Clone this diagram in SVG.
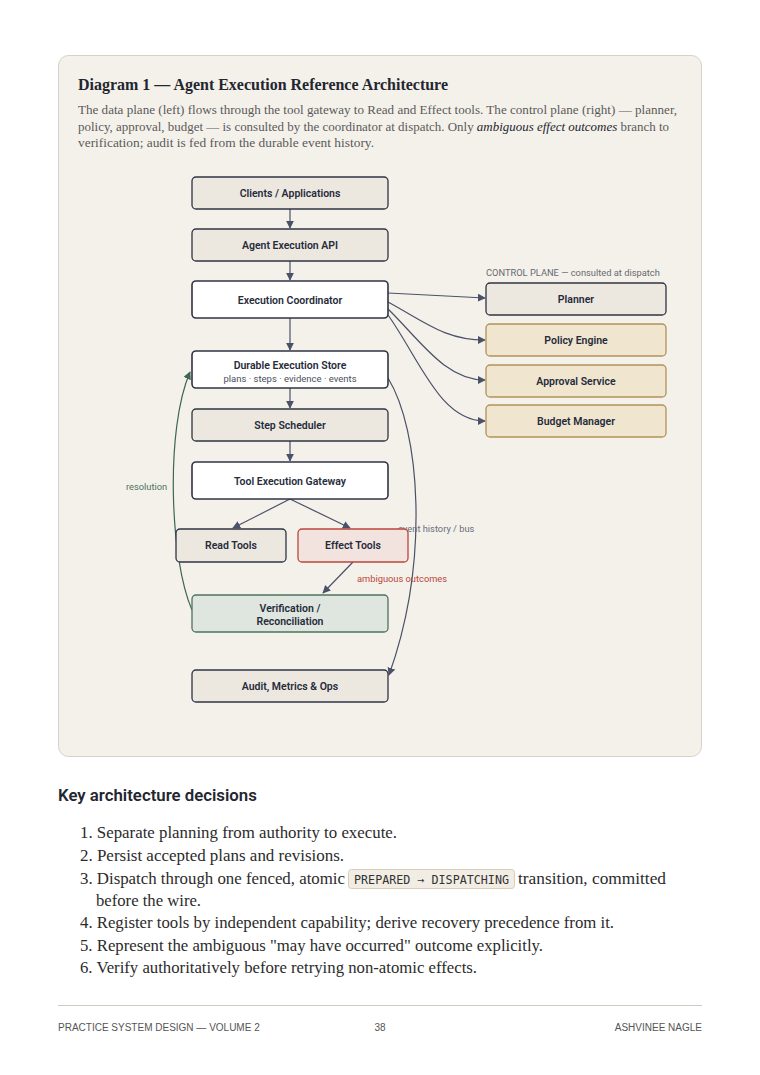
<svg xmlns="http://www.w3.org/2000/svg" width="760" height="1075" viewBox="0 0 760 1075">
<defs>
<marker id="ah" viewBox="0 0 10 10" refX="9" refY="5" markerWidth="8" markerHeight="8" markerUnits="userSpaceOnUse" orient="auto"><path d="M0,0 L10,5 L0,10 z" fill="#4a5168"/></marker>
<marker id="ahg" viewBox="0 0 10 10" refX="9" refY="5" markerWidth="8" markerHeight="8" markerUnits="userSpaceOnUse" orient="auto"><path d="M0,0 L10,5 L0,10 z" fill="#3f6650"/></marker>
<style>
.nt{font-family:Roboto,"Liberation Sans",sans-serif;font-weight:600;font-size:10.5px;fill:#262b3a;text-anchor:middle}
.sub{font-family:Roboto,"Liberation Sans",sans-serif;font-size:9.5px;fill:#4a4f5c;text-anchor:middle}
.b{fill:#ece8e0;stroke:#2f3445;stroke-width:1.3}
.w{fill:#ffffff;stroke:#2f3445;stroke-width:1.6}
.g{fill:#f0e5cf;stroke:#b39257;stroke-width:1.3}
.e{fill:#f3e3df;stroke:#b9473b;stroke-width:1.3}
.v{fill:#dfe6e0;stroke:#4d735e;stroke-width:1.3}
.c{fill:none;stroke:#4a5168;stroke-width:1.2}
.lbl{font-family:Roboto,"Liberation Sans",sans-serif;font-size:9.3px}
.ser{font-family:"Liberation Serif",serif}
.li{font-family:"Liberation Serif",serif;font-size:16.3px;fill:#2b2b2b}
.ft{font-family:"Liberation Sans",sans-serif;font-size:10px;fill:#555}
</style>
</defs>
<rect x="0" y="0" width="760" height="1075" fill="#ffffff"/>
<rect x="58.5" y="55.5" width="643" height="701" rx="10" fill="#f4f1ea" stroke="#d8d2c6" stroke-width="1"/>
<text x="78" y="90" class="ser" font-size="16" font-weight="bold" fill="#23262f" textLength="370" lengthAdjust="spacingAndGlyphs">Diagram 1 — Agent Execution Reference Architecture</text>
<g class="ser" font-size="13" fill="#5a5a5a">
<text x="78" y="114" textLength="599" lengthAdjust="spacingAndGlyphs">The data plane (left) flows through the tool gateway to Read and Effect tools. The control plane (right) — planner,</text>
<text x="78" y="131" textLength="591" lengthAdjust="spacingAndGlyphs">policy, approval, budget — is consulted by the coordinator at dispatch. Only <tspan font-style="italic" fill="#23262f">ambiguous effect outcomes</tspan> branch to</text>
<text x="78" y="147" textLength="296" lengthAdjust="spacingAndGlyphs">verification; audit is fed from the durable event history.</text>
</g>

<g id="connectors">
<path class="c" d="M290,209 V228" marker-end="url(#ah)"/>
<path class="c" d="M290,261 V280" marker-end="url(#ah)"/>
<path class="c" d="M290,318 V350" marker-end="url(#ah)"/>
<path class="c" d="M290,388 V408" marker-end="url(#ah)"/>
<path class="c" d="M290,441 V461" marker-end="url(#ah)"/>
<path class="c" d="M290,499 L233,528" marker-end="url(#ah)"/>
<path class="c" d="M290,499 L350,528" marker-end="url(#ah)"/>
<path class="c" d="M353,562 L323,593" marker-end="url(#ah)"/>
<path class="c" d="M388,293 L485,298" marker-end="url(#ah)"/>
<path class="c" d="M388,302 C425,322 445,340 485,340" marker-end="url(#ah)"/>
<path class="c" d="M388,309 C420,340 445,380 485,380" marker-end="url(#ah)"/>
<path class="c" d="M388,315 C420,360 440,421 485,421" marker-end="url(#ah)"/>
<path d="M192,610 C170,560 165,430 190,372" fill="none" stroke="#3f6650" stroke-width="1.2" marker-end="url(#ahg)"/>
<path class="c" d="M388,378 C420,430 430,560 389,675" marker-end="url(#ah)"/>
<text x="357" y="582" class="lbl" fill="#b9473b">ambiguous outcomes</text>
<text x="126" y="490" class="lbl" fill="#4d735e">resolution</text>
<text x="398" y="532" class="lbl" fill="#6a6e78">event history / bus</text>
</g>

<g id="n-clients"><rect class="b" x="192" y="177" width="196" height="32" rx="4"/><text class="nt" x="290" y="197">Clients / Applications</text></g>
<g id="n-api"><rect class="b" x="192" y="229" width="196" height="32" rx="4"/><text class="nt" x="290" y="249">Agent Execution API</text></g>
<g id="n-coord"><rect class="w" x="192" y="281" width="196" height="37" rx="4"/><text class="nt" x="290" y="304">Execution Coordinator</text></g>
<g id="n-store"><rect class="w" x="192" y="351" width="196" height="37" rx="4"/><text class="nt" x="290" y="369">Durable Execution Store</text><text class="sub" x="290" y="382">plans · steps · evidence · events</text></g>
<g id="n-sched"><rect class="b" x="192" y="409" width="196" height="32" rx="4"/><text class="nt" x="290" y="429">Step Scheduler</text></g>
<g id="n-gateway"><rect class="w" x="192" y="462" width="196" height="37" rx="4"/><text class="nt" x="290" y="485">Tool Execution Gateway</text></g>
<g id="n-read"><rect class="b" x="176" y="529" width="110" height="33" rx="4"/><text class="nt" x="231" y="549">Read Tools</text></g>
<g id="n-effect"><rect class="e" x="298" y="529" width="110" height="33" rx="4"/><text class="nt" x="353" y="549">Effect Tools</text></g>
<g id="n-verify"><rect class="v" x="192" y="595" width="196" height="37" rx="4"/><text class="nt" x="290" y="612">Verification /</text><text class="nt" x="290" y="625">Reconciliation</text></g>
<g id="n-audit"><rect class="b" x="192" y="670" width="196" height="32" rx="4"/><text class="nt" x="290" y="690">Audit, Metrics &amp; Ops</text></g>

<text x="486" y="276" class="lbl" fill="#666a73">CONTROL PLANE — consulted at dispatch</text>
<g id="n-planner"><rect class="b" x="486" y="283" width="180" height="32" rx="4"/><text class="nt" x="576" y="303">Planner</text></g>
<g id="n-policy"><rect class="g" x="486" y="324" width="180" height="32" rx="4"/><text class="nt" x="576" y="344">Policy Engine</text></g>
<g id="n-approval"><rect class="g" x="486" y="365" width="180" height="32" rx="4"/><text class="nt" x="576" y="385">Approval Service</text></g>
<g id="n-budget"><rect class="g" x="486" y="405" width="180" height="32" rx="4"/><text class="nt" x="576" y="425">Budget Manager</text></g>

<text x="58" y="801" font-family="Roboto,'Liberation Sans',sans-serif" font-weight="600" font-size="16.8" fill="#23262f">Key architecture decisions</text>
<g class="li">
<text x="80" y="838" textLength="317" lengthAdjust="spacingAndGlyphs">1. Separate planning from authority to execute.</text>
<text x="80" y="861" textLength="264" lengthAdjust="spacingAndGlyphs">2. Persist accepted plans and revisions.</text>
<text x="80" y="884" textLength="265" lengthAdjust="spacingAndGlyphs">3. Dispatch through one fenced, atomic</text>
<rect x="348.5" y="869.5" width="166" height="19" rx="3" fill="#f1ede4" stroke="#d9cfb8"/>
<text x="354" y="883.5" font-family="'DejaVu Sans Mono',monospace" font-size="11.5" fill="#333" textLength="155" lengthAdjust="spacingAndGlyphs">PREPARED → DISPATCHING</text>
<text x="518" y="884" textLength="148" lengthAdjust="spacingAndGlyphs">transition, committed</text>
<text x="96" y="906" textLength="105" lengthAdjust="spacingAndGlyphs">before the wire.</text>
<text x="80" y="928" textLength="534" lengthAdjust="spacingAndGlyphs">4. Register tools by independent capability; derive recovery precedence from it.</text>
<text x="80" y="951" textLength="463" lengthAdjust="spacingAndGlyphs">5. Represent the ambiguous "may have occurred" outcome explicitly.</text>
<text x="80" y="973" textLength="397" lengthAdjust="spacingAndGlyphs">6. Verify authoritatively before retrying non-atomic effects.</text>
</g>
<line x1="58" y1="1005.5" x2="702" y2="1005.5" stroke="#d0ccc4" stroke-width="1.2"/>
<text x="58" y="1031" class="ft">PRACTICE SYSTEM DESIGN — VOLUME 2</text>
<text x="380" y="1031" class="ft" text-anchor="middle">38</text>
<text x="702" y="1031" class="ft" text-anchor="end">ASHVINEE NAGLE</text>
</svg>
